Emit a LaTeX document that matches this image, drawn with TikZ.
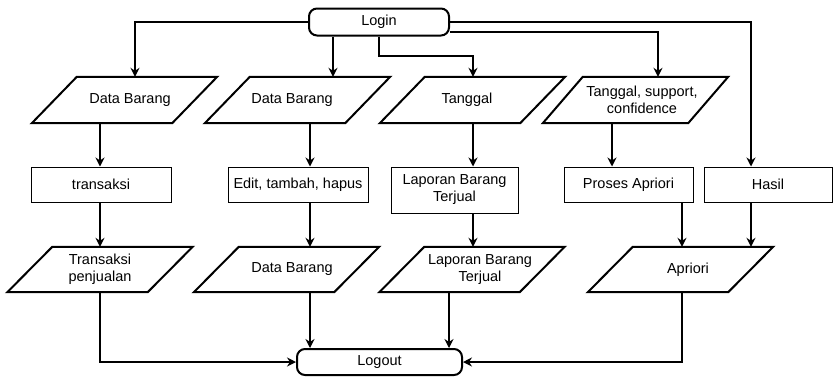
\documentclass[tikz,border=0pt]{standalone}
\usepackage{fontspec}
\setmainfont{Liberation Sans}
\usetikzlibrary{arrows.meta}
\newcommand\drawpara[3]{%
  \draw[paraline] ([xshift=#3]#1.south west) -- ([xshift=#2+#3]#1.north west)
    -- ([xshift=#3]#1.north east) -- ([xshift=#3-#2]#1.south east) -- cycle;}
\begin{document}
\begin{tikzpicture}[x=1pt,y=-1pt,
  font=\fontsize{14.5}{17}\selectfont,
  conn/.style={line width=2pt,-{Stealth[length=9pt,width=9pt,inset=3pt]}},
  term/.style={draw,line width=2pt,rounded corners=8pt,inner sep=0pt},
  proc/.style={draw,line width=1pt,inner sep=0pt,align=center},
  io/.style={inner sep=0pt,align=center,minimum width=185pt,minimum height=46pt},
  paraline/.style={line width=2pt,line join=miter}]
\useasboundingbox (0,0) rectangle (836,376);
\fill[white] (0,0) rectangle (836,376);

% terminals
\node[term,minimum width=140pt,minimum height=27pt] (login) at (379,22) {Login};
\node[term,minimum width=165pt,minimum height=26pt] (logout) at (379.5,362) {Logout};

% processes
\node[proc,minimum width=140pt,minimum height=35pt] (r1) at (101,184.5) {transaksi};
\node[proc,minimum width=140pt,minimum height=35pt] (r2) at (298,184.5) {Edit, tambah, hapus};
\node[proc,minimum width=127pt,minimum height=46pt] (r3) at (454.5,190) {Laporan Barang\\Terjual};
\node[proc,minimum width=129pt,minimum height=35pt] (r4) at (628.5,184.5) {Proses Apriori};
\node[proc,minimum width=128pt,minimum height=35pt] (r5) at (768,184.5) {Hasil};

% input/output
\node[io] (p1) at (130,100) {Data Barang};
\node[io] (p2) at (292,100) {Data Barang};
\node[io] (p3) at (467,100) {Tanggal};
\node[io] (p4) at (642,100) {Tanggal, support,\\confidence};
\node[io,minimum height=45pt] (p5) at (100,269.5) {Transaksi\\penjualan};
\node[io,minimum height=45pt] (p6) at (292,269.5) {Data Barang};
\node[io,minimum height=45pt] (p7) at (480,269.5) {Laporan Barang\\Terjual};
\node[io,minimum height=45pt] (p8) at (688,269.5) {Apriori};
\drawpara{p1}{45}{-5.5}
\drawpara{p2}{45}{5.5}
\drawpara{p3}{45}{5.5}
\drawpara{p4}{40}{-6.5}
\drawpara{p5}{45}{0}
\drawpara{p6}{45}{-5.5}
\drawpara{p7}{45}{-8}
\drawpara{p8}{45}{-7.5}

% connector columns
\coordinate (xa) at (135,0);
\coordinate (xb) at (100,0);
\coordinate (xc) at (333,0);
\coordinate (xd) at (310,0);
\coordinate (xf) at (473,0);
\coordinate (xg) at (449,0);
\coordinate (xh) at (658,0);
\coordinate (xi) at (612,0);
\coordinate (xj) at (682,0);
\coordinate (xk) at (751,0);
\coordinate (yl) at (0,32);

% connectors from Login
\draw[conn] (login.west) -| (p1.north -| xa);
\draw[conn] (login.south -| xc) -- (p2.north -| xc);
\draw[conn] (login.south) -- ++(0,19) -| (p3.north -| xf);
\draw[conn] (login.east |- yl) -| (p4.north -| xh);
\draw[conn] (login.east) -| (r5.north -| xk);

% columns
\draw[conn] (p1.south -| xb) -- (r1.north -| xb);
\draw[conn] (r1.south -| xb) -- (p5.north -| xb);
\draw[conn] (p5.south -| xb) |- (logout.west);

\draw[conn] (p2.south -| xd) -- (r2.north -| xd);
\draw[conn] (r2.south -| xd) -- (p6.north -| xd);
\draw[conn] (p6.south -| xd) -- (logout.north -| xd);

\draw[conn] (p3.south -| xf) -- (r3.north -| xf);
\draw[conn] (r3.south -| xf) -- (p7.north -| xf);
\draw[conn] (p7.south -| xg) -- (logout.north -| xg);

\draw[conn] (p4.south -| xi) -- (r4.north -| xi);
\draw[conn] (r4.south -| xj) -- (p8.north -| xj);
\draw[conn] (r5.south -| xk) -- (p8.north -| xk);
\draw[conn] (p8.south -| xj) |- (logout.east);
\end{tikzpicture}
\end{document}
